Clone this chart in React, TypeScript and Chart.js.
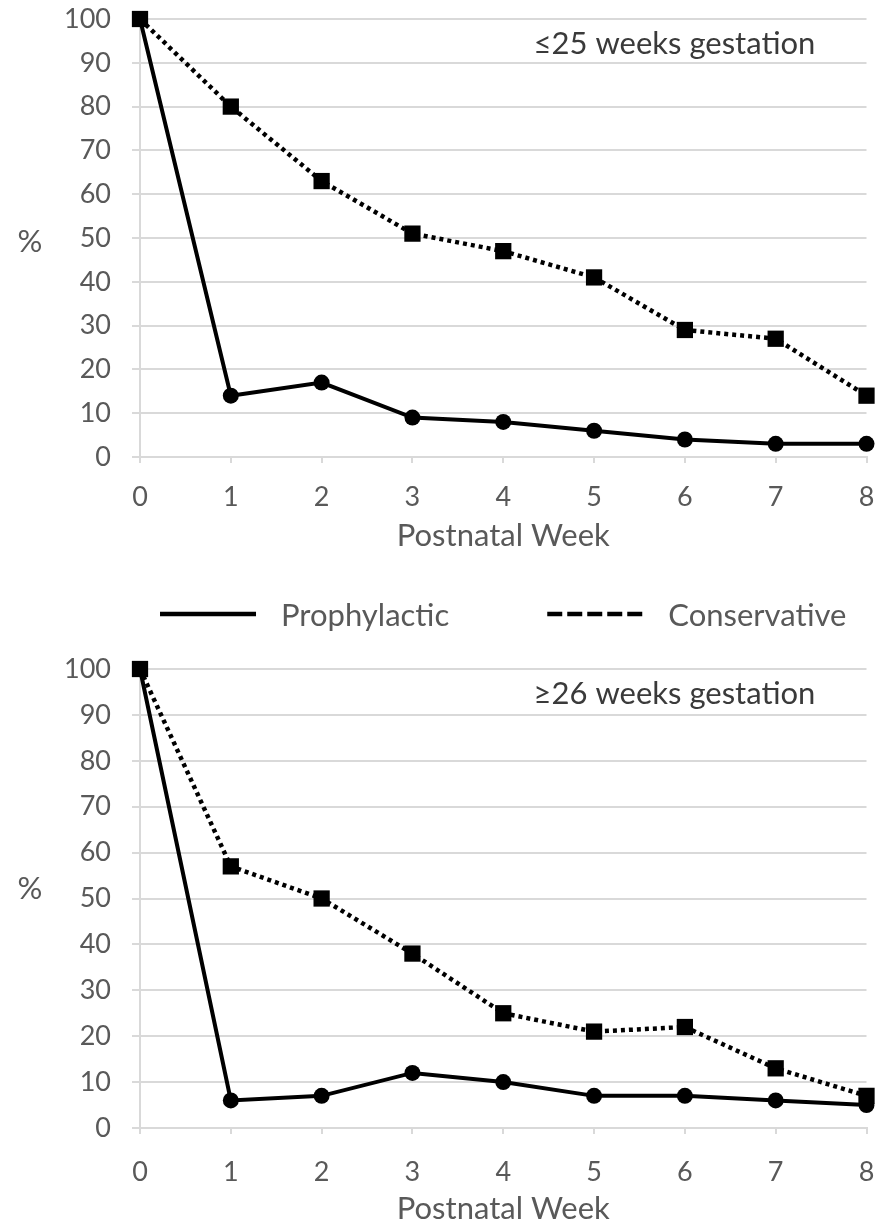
import React, { useEffect, useRef } from "react";
import { Chart, registerables } from "chart.js";

Chart.register(...registerables);

// ---------- data ----------
const weeks = ["0", "1", "2", "3", "4", "5", "6", "7", "8"];
const seriesLabels = ["Prophylactic", "Conservative"];
const panelTitles = ["≤25 weeks gestation", "≥26 weeks gestation"];
const xAxisTitle = "Postnatal Week";
const yAxisTitle = "%";

const prophylacticLe25 = [100, 14, 17, 9, 8, 6, 4, 3, 3];
const conservativeLe25 = [100, 80, 63, 51, 47, 41, 29, 27, 14];
const prophylacticGe26 = [100, 6, 7, 12, 10, 7, 7, 6, 5];
const conservativeGe26 = [100, 57, 50, 38, 25, 21, 22, 13, 7];

const FONT = "Lato";
const GRID = "#d9d9d9";
const TEXT = "#595959";

// ---------- plugins ----------
const panelText = {
  id: "panelText",
  afterDraw(chart: any, _args: any, opts: any) {
    const { ctx, chartArea } = chart;
    ctx.save();
    ctx.textAlign = "center";
    ctx.textBaseline = "middle";
    ctx.font = `31px ${FONT}`;
    ctx.fillStyle = "#3a3a3a";
    ctx.fillText(opts.title, chartArea.right - 192, chartArea.top + 25);
    ctx.fillStyle = TEXT;
    ctx.fillText(opts.yTitle, 30, chart.scales.y.getPixelForValue(50) + opts.yTitleOffset);
    ctx.restore();
  },
};

const lineLegend = {
  id: "lineLegend",
  afterDraw(chart: any, _args: any, opts: any) {
    if (!opts.display) return;
    const { ctx, chartArea } = chart;
    const lineLen = 96;
    const gap = 25;
    const itemGap = 98;
    ctx.save();
    ctx.font = `31px ${FONT}`;
    const items = chart.data.datasets.map((ds: any) => ({
      text: ds.label,
      dash: ds.legendDash || [],
      width: ctx.measureText(ds.label).width,
    }));
    let total = 0;
    items.forEach((it: any, i: number) => {
      total += lineLen + gap + it.width + (i > 0 ? itemGap : 0);
    });
    let x = (chartArea.left + chartArea.right) / 2 - total / 2;
    const y = chartArea.top + opts.offsetY;
    items.forEach((it: any) => {
      ctx.strokeStyle = "#000";
      ctx.lineWidth = 4.5;
      ctx.setLineDash(it.dash);
      ctx.beginPath();
      ctx.moveTo(x, y);
      ctx.lineTo(x + lineLen, y);
      ctx.stroke();
      ctx.setLineDash([]);
      ctx.fillStyle = TEXT;
      ctx.textAlign = "left";
      ctx.textBaseline = "middle";
      ctx.fillText(it.text, x + lineLen + gap, y + 2);
      x += lineLen + gap + it.width + itemGap;
    });
    ctx.restore();
  },
};

function makeConfig(prop: number[], cons: number[], title: string, o: any): any {
  return {
    type: "line",
    data: {
      labels: weeks,
      datasets: [
        {
          label: seriesLabels[0],
          data: prop,
          borderColor: "#000",
          backgroundColor: "#000",
          borderWidth: 4,
          pointStyle: "circle",
          pointRadius: 8,
          pointBorderWidth: 0,
          pointBackgroundColor: "#000",
          tension: 0,
          clip: false,
          order: 1,
          legendDash: [],
        },
        {
          label: seriesLabels[1],
          data: cons,
          borderColor: "#000",
          backgroundColor: "#000",
          borderWidth: 4.5,
          borderDash: [4, 4],
          pointStyle: "rect",
          pointRadius: 11.5,
          pointBorderWidth: 0,
          pointBackgroundColor: "#000",
          tension: 0,
          clip: false,
          order: 0,
          legendDash: [15, 5],
        },
      ],
    },
    options: {
      animation: false,
      responsive: false,
      events: [],
      layout: { padding: { top: o.padTop, right: 10, left: 0, bottom: 0 } },
      plugins: {
        legend: { display: false },
        tooltip: { enabled: false },
        panelText: { title, yTitle: yAxisTitle, yTitleOffset: o.yTitleOffset },
        lineLegend: { display: o.legend, offsetY: -55 },
      },
      scales: {
        x: {
          type: "category",
          offset: false,
          grid: {
            display: true,
            drawOnChartArea: false,
            drawTicks: true,
            tickLength: 6,
            color: GRID,
            lineWidth: 2,
          },
          border: { display: true, color: GRID, width: 2 },
          ticks: {
            font: { family: FONT, size: 27 },
            color: TEXT,
            padding: o.xTickPad,
            maxRotation: 0,
            autoSkip: false,
          },
          title: {
            display: true,
            text: xAxisTitle,
            font: { family: FONT, size: 31 },
            color: TEXT,
            padding: { top: 0, bottom: o.titlePad },
          },
          afterFit: (s: any) => {
            s.height = o.xHeight;
            s.paddingLeft = 0;
            s.paddingRight = 0;
          },
        },
        y: {
          min: 0,
          max: 100,
          ticks: {
            stepSize: 10,
            font: { family: FONT, size: 27 },
            color: TEXT,
            padding: 21,
          },
          grid: { color: GRID, lineWidth: 2, tickLength: 8, drawTicks: true },
          border: { display: true, color: GRID, width: 2 },
          afterFit: (s: any) => {
            s.width = 140;
            s.paddingTop = 0;
            s.paddingBottom = 0;
          },
        },
      },
    },
    plugins: [panelText, lineLegend],
  };
}

function Panel(props: { top: number; height: number; config: any }) {
  const ref = useRef<HTMLCanvasElement>(null);
  useEffect(() => {
    const chart = new Chart(ref.current as HTMLCanvasElement, props.config);
    return () => chart.destroy();
  }, []);
  return (
    <canvas
      ref={ref}
      width={878}
      height={props.height}
      style={{ position: "absolute", left: 0, top: props.top, width: 878, height: props.height }}
    />
  );
}

export default function App() {
  const topCfg = makeConfig(prophylacticLe25, conservativeLe25, panelTitles[0], {
    padTop: 19,
    xHeight: 103,
    titlePad: 5,
    xTickPad: 18,
    yTitleOffset: 4,
    legend: false,
  });
  const botCfg = makeConfig(prophylacticGe26, conservativeGe26, panelTitles[1], {
    padTop: 109,
    xHeight: 98,
    titlePad: -2,
    xTickPad: 22,
    yTitleOffset: -10,
    legend: true,
  });
  return (
    <div style={{ position: "absolute", left: 0, top: 0, width: 878, height: 1226, background: "#fff" }}>
      <Panel top={0} height={560} config={topCfg} />
      <Panel top={560} height={666} config={botCfg} />
    </div>
  );
}
